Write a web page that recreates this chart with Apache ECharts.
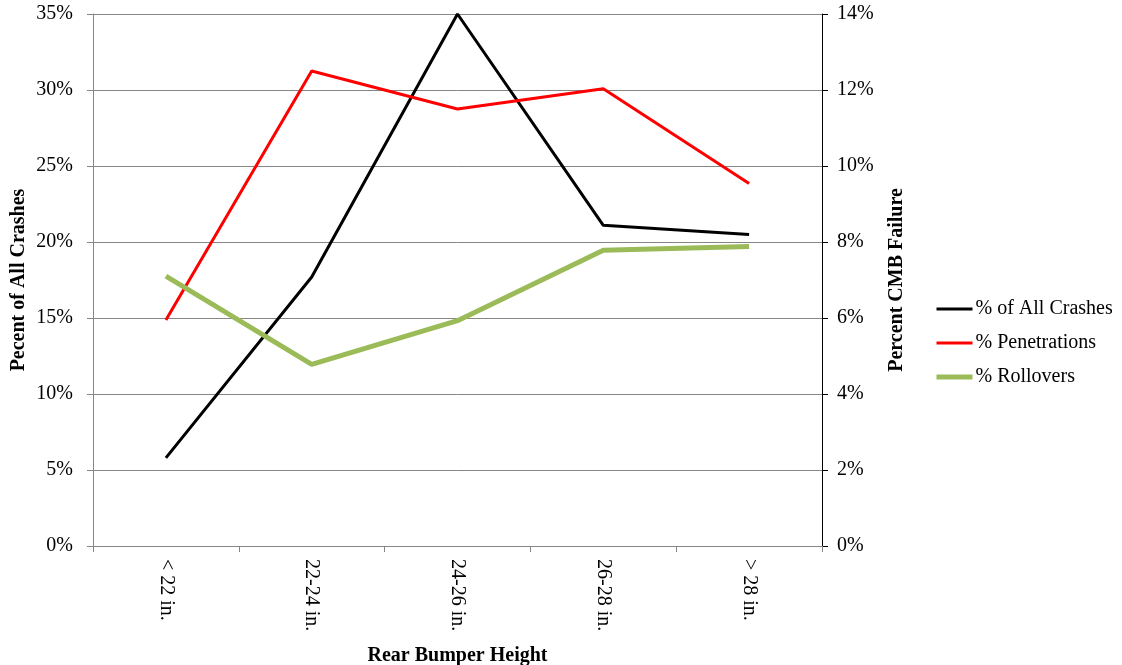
<!DOCTYPE html>
<html>
<head>
<meta charset="utf-8">
<script src="https://cdn.jsdelivr.net/npm/echarts@6/dist/echarts.min.js"></script>
<style>html,body{margin:0;padding:0;background:#fff;}#c{width:1122px;height:665px;}</style>
</head>
<body>
<div id="c"></div>
<script>
var categories = ['< 22 in.', '22-24 in.', '24-26 in.', '26-28 in.', '> 28 in.'];
var allCrashes = [5.8, 17.7, 35.0, 21.1, 20.5];
var penetrations = [5.95, 12.5, 11.5, 12.03, 9.54];
var rollovers = [7.1, 4.78, 5.93, 7.78, 7.88];

var FONT = 'Liberation Serif';
var chart = echarts.init(document.getElementById('c'));
chart.setOption({
  animation: false,
  textStyle: { fontFamily: FONT, color: '#000' },
  grid: { left: 93, right: 300, top: 14, bottom: 119, containLabel: false, outerBoundsMode: 'none' },
  legend: {
    orient: 'vertical', left: 929, top: 294, itemWidth: 36, itemHeight: 14, itemGap: 14,
    itemStyle: { opacity: 0 },
    textStyle: { fontFamily: FONT, fontSize: 20, color: '#000', padding: [0, 0, 0, -2] },
    data: [
      { name: '% of All Crashes', lineStyle: { width: 3, color: '#000' } },
      { name: '% Penetrations', lineStyle: { width: 3, color: '#FF0000' } },
      { name: '% Rollovers', lineStyle: { width: 5, color: '#9BBB59' } }
    ]
  },
  xAxis: {
    type: 'category', data: categories, boundaryGap: true,
    name: 'Rear Bumper Height', nameLocation: 'middle', nameGap: 100, nameMoveOverlap: false,
    nameTextStyle: { fontFamily: FONT, fontSize: 20, fontWeight: 'bold', color: '#000' },
    axisLine: { lineStyle: { color: '#868686', width: 1 } },
    axisTick: { show: true, length: 6, interval: 0, lineStyle: { color: '#868686' } },
    axisLabel: { rotate: -90, interval: 0, margin: 13, fontFamily: FONT, fontSize: 20, color: '#000' }
  },
  yAxis: [{
    type: 'value', min: 0, max: 35, interval: 5, position: 'left',
    name: 'Pecent of All Crashes', nameLocation: 'middle', nameGap: 64, nameRotate: 90, nameMoveOverlap: false,
    nameTextStyle: { fontFamily: FONT, fontSize: 20, fontWeight: 'bold', color: '#000' },
    axisLine: { show: true, lineStyle: { color: '#868686' } },
    axisTick: { show: true, length: 6, lineStyle: { color: '#868686' } },
    axisLabel: { formatter: '{value}%', margin: 20, fontFamily: FONT, fontSize: 20, color: '#000' },
    splitLine: { show: true, lineStyle: { color: '#868686', width: 1 } }
  }, {
    type: 'value', min: 0, max: 14, interval: 2, position: 'right',
    name: 'Percent CMB Failure', nameLocation: 'middle', nameGap: 65, nameRotate: 90, nameMoveOverlap: false,
    nameTextStyle: { fontFamily: FONT, fontSize: 20, fontWeight: 'bold', color: '#000' },
    axisLine: { show: true, lineStyle: { color: '#000' } },
    axisTick: { show: true, length: 6, lineStyle: { color: '#000' } },
    axisLabel: { formatter: '{value}%', margin: 15, fontFamily: FONT, fontSize: 20, color: '#000' },
    splitLine: { show: false }
  }],
  series: [{
    name: '% of All Crashes', type: 'line', yAxisIndex: 0, data: allCrashes,
    symbol: 'none', lineStyle: { color: '#000', width: 3 }, itemStyle: { color: '#000' }
  }, {
    name: '% Penetrations', type: 'line', yAxisIndex: 1, data: penetrations,
    symbol: 'none', lineStyle: { color: '#FF0000', width: 3 }, itemStyle: { color: '#FF0000' }
  }, {
    name: '% Rollovers', type: 'line', yAxisIndex: 1, data: rollovers,
    symbol: 'none', lineStyle: { color: '#9BBB59', width: 5 }, itemStyle: { color: '#9BBB59' }
  }]
});
</script>
</body>
</html>
